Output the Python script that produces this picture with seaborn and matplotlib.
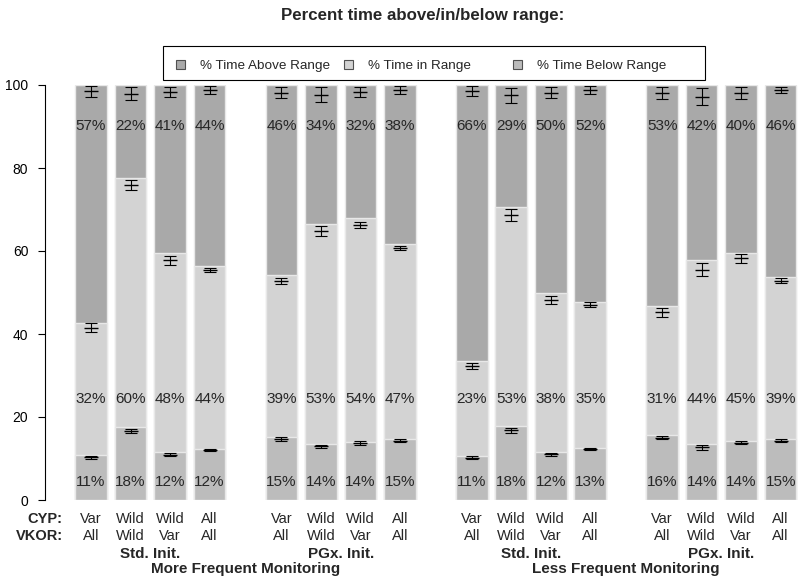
import numpy as np
import pandas as pd
import matplotlib
matplotlib.use('Agg')
import matplotlib.pyplot as plt
import seaborn as sns
from matplotlib.patches import Patch, Rectangle

sns.set_style("ticks")
plt.rcParams['font.family'] = ['Liberation Sans', 'DejaVu Sans']

# Values (percent of time)
pct_below = [10.8, 17.6, 11.6, 12.2, 15.2, 13.6, 14.0, 14.6,
             10.7, 17.8, 11.6, 12.6, 15.6, 13.6, 14.2, 14.6]
pct_in = [31.9, 60.1, 47.8, 44.1, 39.1, 52.8, 53.9, 47.2,
          22.9, 52.9, 38.4, 35.1, 31.2, 44.2, 45.4, 39.2]
pct_above = [57.3, 22.3, 40.6, 43.7, 45.7, 33.6, 32.1, 38.2,
             66.4, 29.3, 50.0, 52.3, 53.2, 42.2, 40.4, 46.2]

# error bar centres and half widths
err_low = [10.3, 16.6, 10.9, 12.0, 14.7, 12.9, 13.7, 14.3,
           10.2, 16.8, 11.0, 12.3, 15.0, 12.7, 13.8, 14.3]
err_mid = [41.5, 75.8, 57.8, 55.5, 52.8, 64.8, 66.3, 60.7,
           32.3, 68.7, 48.2, 47.0, 45.2, 55.5, 58.2, 52.8]
err_top = [98.5, 97.9, 98.3, 98.8, 98.1, 97.6, 98.2, 98.8,
           98.5, 97.5, 98.1, 98.8, 98.1, 97.2, 98.1, 98.8]
ci_low = [0.4, 0.5, 0.4, 0.2, 0.4, 0.4, 0.4, 0.3,
          0.4, 0.6, 0.4, 0.2, 0.4, 0.6, 0.4, 0.3]
ci_mid = [1.1, 1.2, 1.1, 0.5, 0.8, 1.2, 0.8, 0.5,
          0.8, 1.4, 1.0, 0.6, 1.0, 1.5, 1.0, 0.6]
ci_top = [1.3, 1.6, 1.3, 1.0, 1.3, 1.8, 1.2, 1.0,
          1.2, 1.8, 1.3, 1.0, 1.4, 2.0, 1.4, 0.8]

cyp_labels = ['Var', 'Wild', 'Wild', 'All']
vkor_labels = ['All', 'Wild', 'Var', 'All']
init_labels = ['Std. Init.', 'PGx. Init.']
monitor_labels = ['More Frequent Monitoring', 'Less Frequent Monitoring']
legend_labels = ['% Time Above Range', '% Time in Range', '% Time Below Range']

c_above = '#a9a9a9'
c_in = '#d3d3d3'
c_below = '#bcbcbc'

# bar positions: 4 groups of 4 with a wider gap between groups
group_step = 4.82
pos = np.array([g * group_step + i for g in range(4) for i in range(4)])

df = pd.DataFrame({
    'pos': pos,
    'below': pct_below,
    'inrange': pct_in,
    'above': pct_above,
})
df['cum_in'] = df['below'] + df['inrange']
df['cum_top'] = df['cum_in'] + df['above']

fig = plt.figure(figsize=(8, 5.83), dpi=100)
ax = fig.add_axes([45 / 800, 83 / 583, 755 / 800, 415 / 583])

bar_kw = dict(native_scale=True, errorbar=None, saturation=1,
              edgecolor='#e8e8e8', linewidth=1, ax=ax)
sns.barplot(data=df, x='pos', y='cum_top', color=c_above, **bar_kw)
sns.barplot(data=df, x='pos', y='cum_in', color=c_in, **bar_kw)
sns.barplot(data=df, x='pos', y='below', color=c_below, **bar_kw)

for centers, ci in [(err_low, ci_low), (err_mid, ci_mid), (err_top, ci_top)]:
    ax.errorbar(pos, centers, yerr=ci, fmt='none', ecolor='black',
                elinewidth=0.8, capsize=4, capthick=0.8, zorder=5)
    ax.plot(pos, centers, ls='none', marker='_', ms=10, mew=1.0,
            color='black', zorder=5)

# percent labels
for p, b, m, a in zip(pos, pct_below, pct_in, pct_above):
    ax.text(p, 90.0, f'{a:.0f}%', ha='center', va='center', fontsize=11)
    ax.text(p, 24.4, f'{m:.0f}%', ha='center', va='center', fontsize=11)
    ax.text(p, 4.4, f'{b:.0f}%', ha='center', va='center', fontsize=11)

ax.set_xlim(-1.165, 17.95)
ax.set_ylim(0, 100)
ax.set_xticks([])
ax.set_yticks([0, 20, 40, 60, 80, 100])
ax.tick_params(axis='y', length=5, width=0.8, labelsize=10, pad=7, colors='black')
ax.set_xlabel('')
ax.set_ylabel('')
for side in ['top', 'right', 'bottom']:
    ax.spines[side].set_visible(False)
ax.spines['left'].set_bounds(0, 100)
ax.spines['left'].set_linewidth(0.8)
ax.spines['left'].set_color('black')

# category rows under the bars
trans = ax.get_xaxis_transform()
row_y = [-0.0554, -0.0964, -0.1398, -0.1759]
ax.text(-0.72, row_y[0], 'CYP:', transform=trans, ha='right', va='baseline',
        fontsize=10.5, fontweight='bold')
ax.text(-0.72, row_y[1], 'VKOR:', transform=trans, ha='right', va='baseline',
        fontsize=10.5, fontweight='bold')
for k, p in enumerate(pos):
    ax.text(p, row_y[0], cyp_labels[k % 4], transform=trans, ha='center',
            va='baseline', fontsize=10.5)
    ax.text(p, row_y[1], vkor_labels[k % 4], transform=trans, ha='center',
            va='baseline', fontsize=10.5)
for g in range(4):
    center = pos[g * 4:(g + 1) * 4].mean()
    ax.text(center, row_y[2], init_labels[g % 2], transform=trans,
            ha='center', va='baseline', fontsize=11, fontweight='bold')
for m in range(2):
    center = pos[m * 8:(m + 1) * 8].mean()
    ax.text(center, row_y[3], monitor_labels[m], transform=trans,
            ha='center', va='baseline', fontsize=11, fontweight='bold')

ax.text(0.5, 1.168, 'Percent time above/in/below range:', transform=ax.transAxes,
        ha='center', va='center', fontsize=12.2, fontweight='bold')

# legend: box plus three equally spaced entries (R style)
fig.patches.append(Rectangle((163 / 800, 1 - 80 / 583), 542 / 800, 34 / 583,
                             transform=fig.transFigure, facecolor='white',
                             edgecolor='black', linewidth=0.8))
entry_x = [176, 344, 513]
for c, lab, x in zip([c_above, c_in, c_below], legend_labels, entry_x):
    h = Patch(facecolor=c, edgecolor='#505050', linewidth=0.8)
    fig.legend([h], [lab], loc='center left', bbox_to_anchor=(x / 800, 1 - 66 / 583),
               frameon=False, fontsize=9.7, borderpad=0, borderaxespad=0,
               handlelength=0.65, handleheight=0.65, handletextpad=1.1)

fig.savefig('out.png', dpi=100)
